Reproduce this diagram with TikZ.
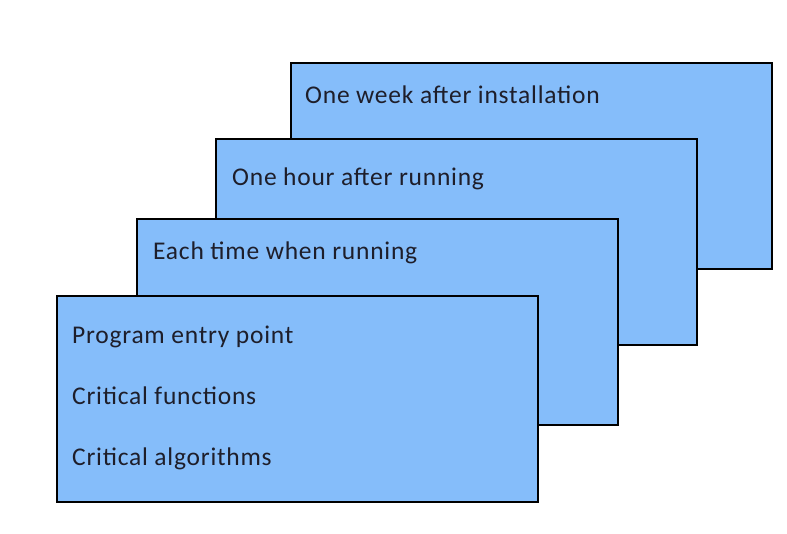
\documentclass[tikz,border=0pt]{standalone}
\usepackage{fontspec}
\setmainfont{Carlito}[LetterSpace=3]
\usetikzlibrary{positioning}
\definecolor{card1}{HTML}{85BDFA}
\definecolor{ink1}{HTML}{1E1E2A}

\tikzset{
  card/.style={draw=black,fill=card1,line width=1.8pt,anchor=north west,
    minimum width=481pt,minimum height=206pt,inner sep=0pt},
  lbl/.style={anchor=west,inner sep=0pt,text=ink1,font=\fontsize{25.5}{29}\selectfont,
    text height=1.5ex,text depth=0.25ex}
}

\begin{document}
\begin{tikzpicture}[x=1pt,y=-1pt]
\useasboundingbox (0,0) rectangle (787,534);
% back to front
\node[card] (week) at (290,62) {};
\node[lbl] (weeklbl) at ([xshift=15pt,yshift=-39pt]week.north west) {One week after installation};
%
\node[card] (hour) at (215,138) {};
\node[lbl] (hourlbl) at ([xshift=17pt,yshift=-45pt]hour.north west) {One hour after running};
%
\node[card] (each) at (136,218) {};
\node[lbl] (eachlbl) at ([xshift=17pt,yshift=-39pt]each.north west) {Each time when running};
%
\node[card] (entry) at (56,295) {};
\node[lbl] (entrylbl) at ([xshift=16pt,yshift=-46pt]entry.north west) {Program entry point};
\node[lbl] (funclbl) at ([xshift=16pt,yshift=-107pt]entry.north west) {Critical functions};
\node[lbl] (algolbl) at ([xshift=16pt,yshift=-168pt]entry.north west) {Critical algorithms};
\end{tikzpicture}
\end{document}
